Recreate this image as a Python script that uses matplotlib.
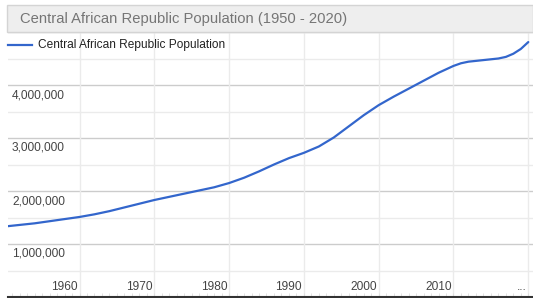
import numpy as np
import matplotlib
matplotlib.use("Agg")
import matplotlib.pyplot as plt
from matplotlib.patches import Rectangle

# population (millions)
years = [1950, 1952, 1954, 1956, 1958, 1960, 1962, 1964, 1966, 1968,
         1970, 1972, 1974, 1976, 1978, 1980, 1982, 1984, 1986, 1988,
         1990, 1992, 1994, 1996, 1998, 2000, 2002, 2004, 2006, 2008,
         2010, 2011, 2012, 2014, 2016, 2017, 2018, 2019, 2020]
pop_m = [1.33, 1.36, 1.39, 1.43, 1.47, 1.51, 1.56, 1.62, 1.69, 1.76,
         1.83, 1.89, 1.95, 2.01, 2.07, 2.15, 2.25, 2.37, 2.50, 2.62,
         2.72, 2.84, 3.01, 3.22, 3.43, 3.62, 3.78, 3.93, 4.08, 4.23,
         4.36, 4.41, 4.44, 4.47, 4.50, 4.53, 4.59, 4.68, 4.81]
pop = np.array(pop_m) * 1e6

x_ticks = [1960, 1970, 1980, 1990, 2000, 2010, 2020]
x_labels = ["1960", "1970", "1980", "1990", "2000", "2010", "..."]
y_labels = [1000000, 2000000, 3000000, 4000000]

title = "Central African Republic Population (1950 - 2020)"
series_name = "Central African Republic Population"

plt.rcParams['font.family'] = ['Liberation Sans', 'DejaVu Sans']

W, H = 533, 298
fig = plt.figure(figsize=(W / 100, H / 100), dpi=100)
ax = fig.add_axes([8 / W, 1 / H, 1 - 8 / W, (297 - 32) / H])
ax.set_xlim(1950.44, 2020.63)
ax.set_ylim(0, 5e6)

# grid
for v in np.arange(500000, 5000001, 500000):
    major = (v % 1000000) == 0
    ax.axhline(v, color="#cccccc" if major else "#ebebeb", lw=1, zorder=1)
for t in x_ticks:
    ax.axvline(t, color="#ebebeb", lw=1, zorder=1)

ax.plot(years, pop, color="#3366cc", lw=1.6, zorder=3,
        solid_capstyle="round", solid_joinstyle="round")

for s in ["top", "right", "left"]:
    ax.spines[s].set_visible(False)
ax.spines["bottom"].set_color("#333333")
ax.spines["bottom"].set_linewidth(1.5)
ax.set_xticks([])
ax.set_yticks([])
ax.set_xticks(np.arange(1951, 2021, 1), minor=True)
ax.tick_params(axis="x", which="minor", direction="in", length=3,
               color="#dddddd", labelbottom=False)

# tick labels inside the plot
for t, lab in zip(x_ticks, x_labels):
    ax.annotate(lab, xy=(t, 0), xycoords="data", xytext=(-2, 10),
                textcoords="offset pixels", ha="right", va="center",
                fontsize=8.6, color="#444444")
for v in y_labels:
    ax.annotate(f"{v:,}", xy=(1950.44, v), xycoords="data", xytext=(4, -10),
                textcoords="offset pixels", ha="left", va="center",
                fontsize=8.6, color="#444444")

# title bar
fig.patches.append(Rectangle((7 / W, 1 - 32 / H), 1 - 7 / W, 27 / H,
                             transform=fig.transFigure, facecolor="#eeeeee",
                             edgecolor="#d4d4d4", lw=1, zorder=5))
fig.text(20 / W, 1 - 18.5 / H, title, fontsize=10.6, color="#757575",
         ha="left", va="center", zorder=6)

# legend
fig.lines.append(plt.Line2D([8 / W, 32 / W], [1 - 45 / H, 1 - 45 / H],
                            transform=fig.transFigure, color="#3366cc", lw=1.6))
fig.text(38 / W, 1 - 45 / H, series_name, fontsize=8.6, color="#222222",
         ha="left", va="center")

fig.savefig("out.png", dpi=100)
